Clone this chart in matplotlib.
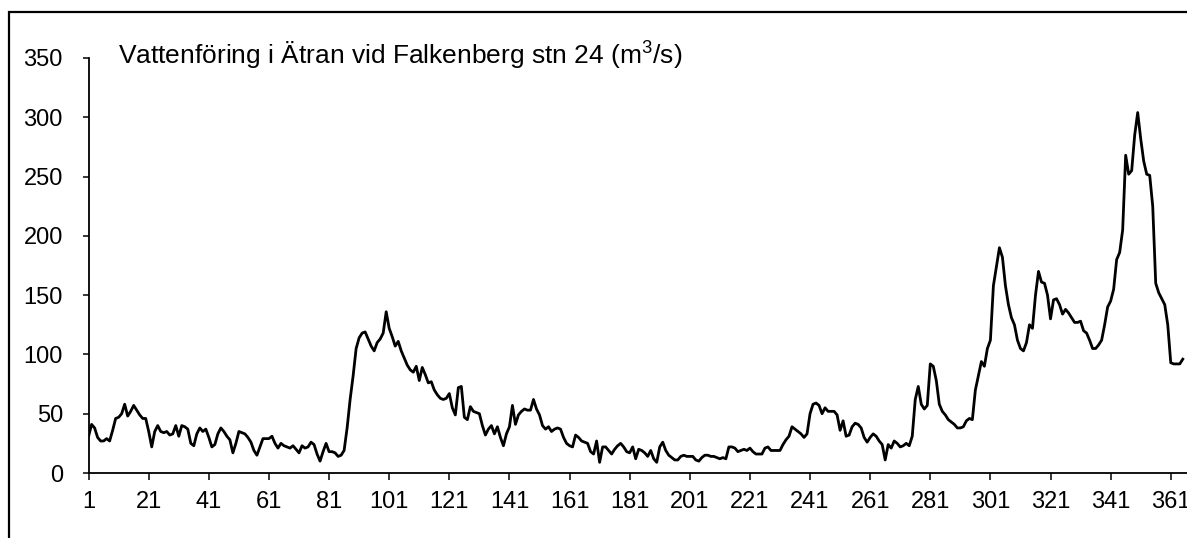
import numpy as np
import matplotlib
matplotlib.use("Agg")
import matplotlib.pyplot as plt
from matplotlib.patches import Rectangle

# daily discharge, m3/s, day 1..365
flow = [
    31, 41, 38, 30, 27, 27, 29, 27, 36, 46,        # 1-10
    47, 50, 58, 48, 52, 57, 53, 49, 46, 46,        # 11-20
    35, 22, 35, 40, 35, 34, 35, 32, 33, 40,        # 21-30
    31, 40, 39, 37, 25, 23, 33, 38, 35, 37,        # 31-40
    30, 22, 24, 33, 38, 35, 31, 28, 17, 25,        # 41-50
    35, 34, 33, 30, 26, 19, 15, 22, 29, 29,        # 51-60
    29, 31, 25, 21, 25, 23, 22, 21, 23, 20,        # 61-70
    17, 23, 21, 22, 26, 24, 16, 10, 18, 25,        # 71-80
    18, 18, 17, 14, 15, 19, 38, 62, 82, 105,       # 81-90
    114, 118, 119, 113, 107, 103, 110, 113, 118, 136,  # 91-100
    122, 115, 107, 111, 103, 97, 91, 87, 85, 90,   # 101-110
    78, 89, 83, 76, 77, 70, 66, 63, 62, 63,        # 111-120
    67, 55, 49, 72, 73, 47, 45, 56, 52, 51,        # 121-130
    50, 40, 32, 37, 40, 33, 39, 30, 23, 33,        # 131-140
    39, 57, 41, 49, 52, 54, 53, 53, 62, 54,        # 141-150
    49, 40, 37, 39, 35, 37, 38, 37, 30, 25,        # 151-160
    23, 22, 32, 30, 27, 26, 25, 18, 16, 27,        # 161-170
    9, 22, 22, 19, 16, 20, 23, 25, 22, 18,         # 171-180
    17, 22, 12, 20, 19, 17, 14, 19, 12, 9,         # 181-190
    22, 26, 19, 15, 13, 11, 11, 14, 15, 14,        # 191-200
    14, 14, 11, 10, 13, 15, 15, 14, 14, 13,        # 201-210
    12, 13, 12, 22, 22, 21, 18, 19, 20, 19,        # 211-220
    21, 18, 16, 16, 16, 21, 22, 19, 19, 19,        # 221-230
    19, 24, 28, 31, 39, 37, 35, 33, 30, 33,        # 231-240
    50, 58, 59, 57, 50, 55, 52, 52, 52, 49,        # 241-250
    36, 44, 31, 32, 39, 42, 41, 38, 30, 26,        # 251-260
    30, 33, 31, 27, 24, 11, 24, 21, 27, 25,        # 261-270
    22, 23, 25, 23, 31, 62, 73, 58, 54, 57,        # 271-280
    92, 90, 78, 58, 52, 49, 45, 43, 41, 38,        # 281-290
    38, 39, 44, 46, 45, 70, 82, 94, 90, 105,       # 291-300
    112, 158, 174, 190, 182, 158, 142, 131, 125, 112,  # 301-310
    105, 103, 110, 125, 122, 150, 170, 161, 160, 150,  # 311-320
    130, 146, 147, 142, 134, 138, 135, 131, 127, 127,  # 321-330
    128, 120, 118, 112, 105, 105, 108, 112, 125, 140,  # 331-340
    145, 155, 180, 186, 205, 268, 252, 255, 285, 304,  # 341-350
    282, 263, 252, 251, 225, 160, 152, 147, 142, 125,  # 351-360
    93, 92, 92, 92, 96,                                # 361-365
]
days = np.arange(1, len(flow) + 1)
xticks = list(range(1, 362, 20))
yticks = [0, 50, 100, 150, 200, 250, 300, 350]
title = r"Vattenföring i Ätran vid Falkenberg stn 24 ($\mathregular{m^{3}}$/s)"

plt.rcParams['font.family'] = ['Liberation Sans', 'DejaVu Sans']

W, H = 1187, 538
fig = plt.figure(figsize=(W / 100, H / 100), dpi=100)

# axes box in pixels: x 88.6 -> 1187, y 58 (350) -> 473 (0)
x0, x1, ytop, ybot = 88.6, 1187, 58, 473
ax = fig.add_axes([x0 / W, 1 - ybot / H, (x1 - x0) / W, (ybot - ytop) / H])

ax.plot(days, flow, color='black', lw=2.0, solid_joinstyle='round')

px_per_day = 3.006
ax.set_xlim(1, 1 + (x1 - x0) / px_per_day)
ax.set_ylim(0, 350)
ax.set_xticks(xticks)
ax.set_xticklabels([str(t) for t in xticks])
ax.set_yticks(yticks)

for s in ['top', 'right']:
    ax.spines[s].set_visible(False)
for s in ['left', 'bottom']:
    ax.spines[s].set_linewidth(1.3)
    ax.spines[s].set_color('black')

ax.tick_params(axis='x', direction='out', length=5, width=1.1, pad=8, labelsize=17)
ax.tick_params(axis='y', direction='out', length=4.5, width=1.1, pad=14, labelsize=17)

fig.text(118 / W, 1 - 56 / H, title, fontsize=19, va='center', ha='left')

# outer chart frame (cropped on right and bottom)
fig.add_artist(Rectangle((9.5 / W, -0.5), 2.0, 1 - 12 / H + 0.5,
                         transform=fig.transFigure, fill=False,
                         edgecolor='black', lw=1.6))

fig.savefig('out.png', dpi=100)
